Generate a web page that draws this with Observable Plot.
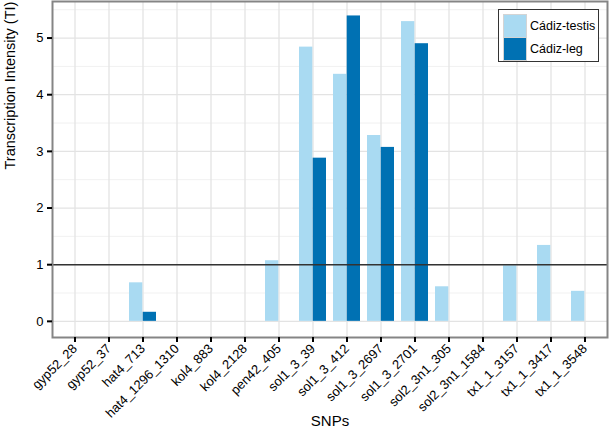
<!DOCTYPE html>
<html><head><meta charset="utf-8">
<script src="https://cdn.jsdelivr.net/npm/d3@7"></script>
<script src="https://cdn.jsdelivr.net/npm/@observablehq/plot@0.6"></script>
<style>
body{margin:0;background:#fff;font-family:"Liberation Sans",Arial,Helvetica,sans-serif}
#wrap{position:relative;width:610px;height:435px}
#legend{position:absolute;left:498px;top:9px;width:99px;height:51px;border:1px solid #333;background:#fff}
#legend .keys{position:absolute;left:4px;top:4px;width:24px;height:47px;background:#d4d4d4}
#legend .sw{position:absolute;left:1px;width:22px;height:22px}
#legend .lab{position:absolute;left:31px;font-size:12.5px;color:#000;line-height:14px}
</style></head><body>
<div id="wrap"></div>
<script>
const snps = ["gyp52_28","gyp52_37","hat4_713","hat4_1296_1310","kol4_883","kol4_2128","pen42_405","sol1_3_39","sol1_3_412","sol1_3_2697","sol1_3_2701","sol2_3n1_305","sol2_3n1_1584","tx1_1_3157","tx1_1_3417","tx1_1_3548"];
const testis = [0,0,0.68,0,0,0,1.07,4.84,4.36,3.28,5.29,0.61,0,0.98,1.34,0.53];
const leg    = [0,0,0.16,0,0,0,0,2.88,5.39,3.07,4.90,0,0,0,0,0];
const seriesNames = ["Cádiz-testis","Cádiz-leg"];
const seriesColors = ["#a9daf2","#0071b3"];
const yTicks = [0,1,2,3,4,5];
const yMinor = [0.5,1.5,2.5,3.5,4.5,5.5];
const refLine = [1];

const rowsT = snps.map((s,i)=>({snp:s, value:testis[i], series:seriesNames[0]}));
const rowsL = snps.map((s,i)=>({snp:s, value:leg[i], series:seriesNames[1]}));

const W = 610, H = 435, mL = 52, mR = 3, mT = 1, mB = 98;
const step = (W - mL - mR) / (snps.length - 0.2 + 0.4);
const half = step * 0.8 / 2;

const chart = Plot.plot({
  width: W, height: H,
  marginLeft: mL, marginRight: mR, marginTop: mT, marginBottom: mB,
  style: {fontFamily: "Liberation Sans, Arial, Helvetica, sans-serif", fontSize: "12px", color: "#000", background: "#fff"},
  x: {domain: snps, type: "band", paddingInner: 0.2, paddingOuter: 0.2},
  y: {domain: [-0.285, 5.645]},
  color: {domain: seriesNames, range: seriesColors},
  marks: [
    Plot.ruleY(yMinor, {stroke: "#f1f1f1", strokeWidth: 1}),
    Plot.gridY({ticks: yTicks, stroke: "#e3e3e3", strokeOpacity: 1, strokeWidth: 1.3}),
    Plot.gridX({stroke: "#e3e3e3", strokeOpacity: 1, strokeWidth: 1.3}),
    Plot.barY(rowsT, {x: "snp", y: "value", fill: "series", insetRight: half}),
    Plot.barY(rowsL, {x: "snp", y: "value", fill: "series", insetLeft: half}),
    Plot.ruleY(refLine, {stroke: "#333", strokeWidth: 1.5}),
    Plot.frame({stroke: "#858585", strokeWidth: 2}),
    Plot.axisY({ticks: yTicks, tickFormat: d3.format("d"), tickSize: 5, tickPadding: 4, strokeWidth: 2, stroke: "#000", label: null, fill: "#000", fontSize: 13}),
    Plot.axisX({tickRotate: -45, tickSize: 5, tickPadding: 4, strokeWidth: 2, stroke: "#000", label: null, fill: "#000", fontSize: 13}),
    Plot.text(["SNPs"], {frameAnchor: "bottom", dy: 88, fontSize: 15, fill: "#000"}),
    Plot.text(["Transcription Intensity (TI)"], {frameAnchor: "left", rotate: -90, dx: -42, fontSize: 14.5, fill: "#000"})
  ]
});
const wrap = document.getElementById("wrap");
wrap.appendChild(chart);

const lg = document.createElement("div");
lg.id = "legend";
let html = '<div class="keys">';
seriesNames.forEach((n,i)=>{ html += `<div class="sw" style="top:${1+i*23}px;background:${seriesColors[i]}"></div>`; });
html += '</div>';
seriesNames.forEach((n,i)=>{ html += `<div class="lab" style="top:${9+i*23}px">${n}</div>`; });
lg.innerHTML = html;
wrap.appendChild(lg);
</script>
</body></html>
